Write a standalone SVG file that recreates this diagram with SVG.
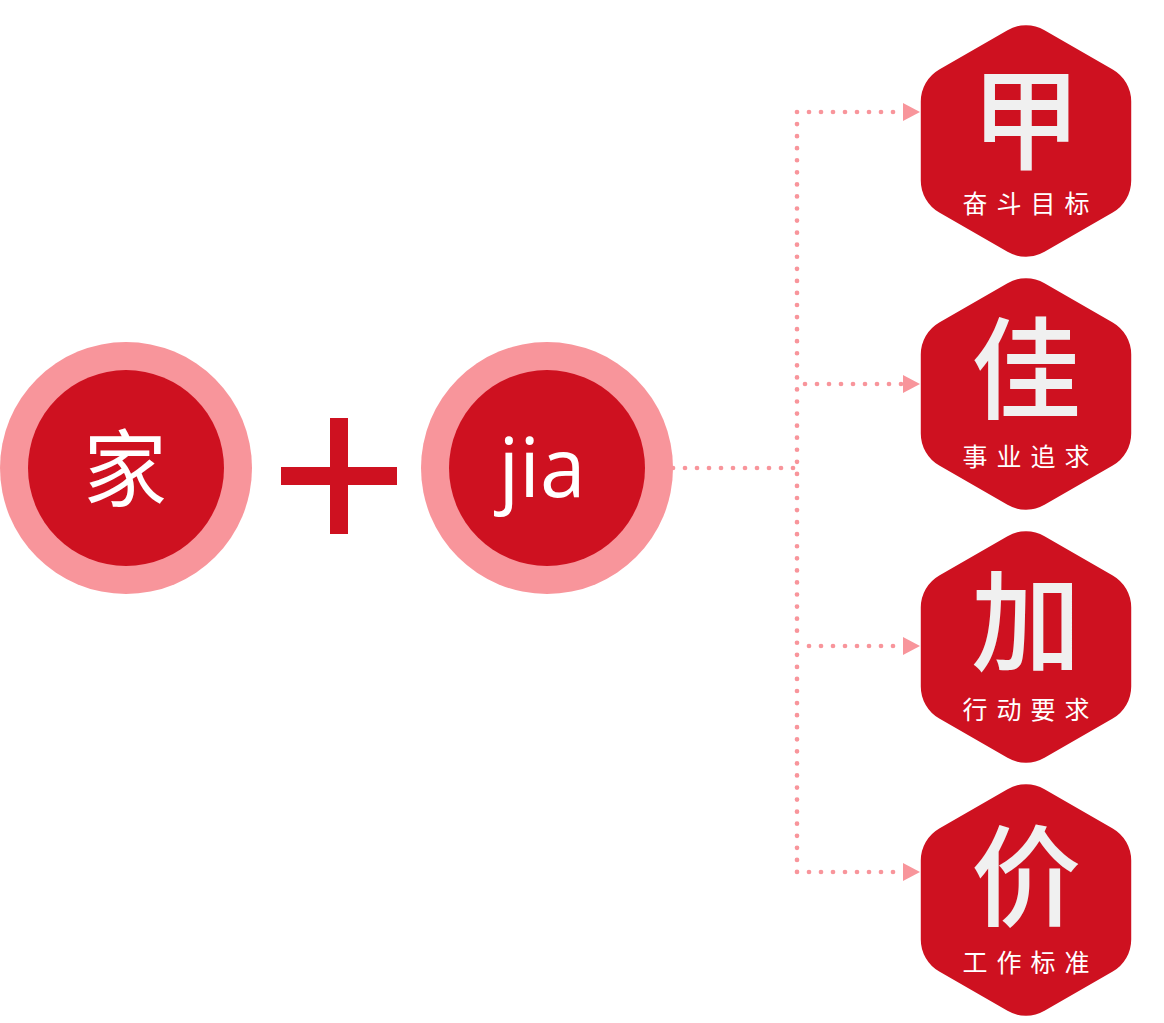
<svg xmlns="http://www.w3.org/2000/svg" width="1164" height="1023" viewBox="0 0 1164 1023">
<style>
.outer{fill:#F8959B}
.inner{fill:#CE1120}
.hex{fill:#CE1120}
.big{fill:#F0F0F0;font-family:"Noto Sans CJK SC","Noto Sans CJK JP",sans-serif;font-weight:500;font-size:110px;text-anchor:middle}
.lbl{fill:#FFFFFF;font-family:"Noto Sans CJK SC","Noto Sans CJK JP",sans-serif;font-size:25px;letter-spacing:9px;text-anchor:middle}
.dot{fill:none;stroke:#F8959B;stroke-width:4.7;stroke-linecap:round;stroke-dasharray:0 12}
</style>
<defs>
<path id="hexshape" d="M -18.50,-110.82 A 37 37 0 0 1 18.50,-110.82 L 86.72,-71.43 A 37 37 0 0 1 105.22,-39.39 L 105.22,39.39 A 37 37 0 0 1 86.72,71.43 L 18.50,110.82 A 37 37 0 0 1 -18.50,110.82 L -86.72,71.43 A 37 37 0 0 1 -105.22,39.39 L -105.22,-39.39 A 37 37 0 0 1 -86.72,-71.43 Z"/>
<marker id="arrow" markerUnits="userSpaceOnUse" markerWidth="17" markerHeight="18" refX="0" refY="9" orient="auto" viewBox="0 0 17 18">
<path d="M0,0 L17,9 L0,18 Z" fill="#F8959B"/>
</marker>
</defs>
<g id="connectors">
<path class="dot" d="M673,468 H797"/>
<path class="dot" style="stroke-dasharray:0 12.063" d="M797,112 V872"/>
<path class="dot" d="M809,112 H903" marker-end="url(#arrow)"/>
<path class="dot" d="M805,384 H903" marker-end="url(#arrow)"/>
<path class="dot" d="M809,646 H903" marker-end="url(#arrow)"/>
<path class="dot" d="M809,872 H903" marker-end="url(#arrow)"/>
</g>
<g id="node-jia-char">
<circle class="outer" cx="126" cy="468" r="126"/>
<circle class="inner" cx="126" cy="468" r="98"/>
<text x="125" y="500" fill="#FFFFFF" font-family="'Noto Sans CJK SC','Noto Sans CJK JP',sans-serif" font-size="84" text-anchor="middle">家</text>
</g>
<g id="plus">
<rect x="281" y="467" width="116" height="18" fill="#CE1120"/>
<rect x="330" y="418" width="18" height="116" fill="#CE1120"/>
</g>
<g id="node-jia-pinyin">
<circle class="outer" cx="547" cy="468" r="126"/>
<circle class="inner" cx="547" cy="468" r="98"/>
<text x="542" y="497" fill="#FFFFFF" font-family="'Open Sans','Noto Sans',sans-serif" font-size="82" text-anchor="middle">jia</text>
</g>
<g id="node-jia3" transform="translate(1026,141)">
<use href="#hexshape" class="hex"/>
<text class="big" x="0" y="20">甲</text>
<text class="lbl" x="4.5" y="72">奋斗目标</text>
</g>
<g id="node-jia-good" transform="translate(1026,394)">
<use href="#hexshape" class="hex"/>
<text class="big" x="0" y="16">佳</text>
<text class="lbl" x="4.5" y="72">事业追求</text>
</g>
<g id="node-jia-add" transform="translate(1026,647)">
<use href="#hexshape" class="hex"/>
<text class="big" x="0" y="16">加</text>
<text class="lbl" x="4.5" y="72">行动要求</text>
</g>
<g id="node-jia-value" transform="translate(1026,900)">
<use href="#hexshape" class="hex"/>
<text class="big" x="0" y="18">价</text>
<text class="lbl" x="4.5" y="72">工作标准</text>
</g>
</svg>
